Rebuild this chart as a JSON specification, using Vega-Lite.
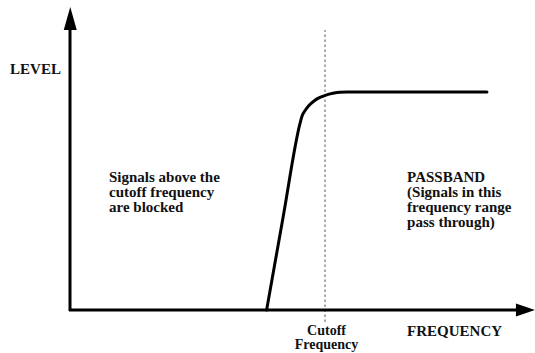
{
  "$schema": "https://vega.github.io/schema/vega-lite/v6.json",
  "width": 535,
  "height": 353,
  "padding": 0,
  "autosize": {"type": "fit", "contains": "padding"},
  "background": "white",
  "config": {"view": {"stroke": null}},
  "datasets": {
    "curve": [
      {"freq": 77.1, "level": 0},
      {"freq": 83.6, "level": 42.8},
      {"freq": 90.2, "level": 85.6},
      {"freq": 91.0, "level": 89.0},
      {"freq": 92.2, "level": 91.5},
      {"freq": 93.7, "level": 93.8},
      {"freq": 95.7, "level": 95.9},
      {"freq": 98.0, "level": 97.5},
      {"freq": 100.4, "level": 98.6},
      {"freq": 103.1, "level": 99.4},
      {"freq": 105.9, "level": 99.9},
      {"freq": 108.6, "level": 100},
      {"freq": 163.5, "level": 100}
    ],
    "axes": [
      {"f1": -0.4, "l1": 0, "f2": 174.9, "l2": 0},
      {"f1": 0, "l1": -0.4, "f2": 0, "l2": 128.4}
    ],
    "cutoff": [
      {"f1": 100, "l1": -5.5, "f2": 100, "l2": 128.4}
    ],
    "arrowUp": [{"freq": 0.1, "level": 133.7}],
    "arrowRight": [{"freq": 178.6, "level": 0}],
    "labels": [
      {"label": "LEVEL", "freq": -23.5, "level": 108.3},
      {"label": "Signals above the\ncutoff frequency\nare blocked", "freq": 15.3, "level": 58.7},
      {"label": "PASSBAND\n(Signals in this\nfrequency range\npass through)", "freq": 132.2, "level": 58.7},
      {"label": "FREQUENCY", "freq": 132.2, "level": -11.9}
    ],
    "centerLabels": [
      {"label": "Cutoff\nFrequency", "freq": 100.6, "level": -11.5}
    ]
  },
  "layer": [
    {
      "data": {"name": "cutoff"},
      "mark": {"type": "rule", "color": "#555555", "strokeWidth": 1, "strokeDash": [2.5, 2.5]},
      "encoding": {
        "x": {"field": "f1", "type": "quantitative", "scale": {"domain": [-27.45, 182.35], "nice": false, "zero": false}, "axis": null},
        "y": {"field": "l1", "type": "quantitative", "scale": {"domain": [-19.72, 142.2], "nice": false, "zero": false}, "axis": null},
        "x2": {"field": "f2"},
        "y2": {"field": "l2"}
      }
    },
    {
      "data": {"name": "axes"},
      "mark": {"type": "rule", "color": "black", "strokeWidth": 3, "strokeCap": "butt"},
      "encoding": {
        "x": {"field": "f1", "type": "quantitative"},
        "y": {"field": "l1", "type": "quantitative"},
        "x2": {"field": "f2"},
        "y2": {"field": "l2"}
      }
    },
    {
      "data": {"name": "curve"},
      "mark": {"type": "line", "color": "black", "strokeWidth": 3, "interpolate": "monotone", "strokeCap": "round", "strokeJoin": "round"},
      "encoding": {
        "x": {"field": "freq", "type": "quantitative"},
        "y": {"field": "level", "type": "quantitative"}
      }
    },
    {
      "data": {"name": "arrowUp"},
      "mark": {"type": "point", "shape": "M0,-1L0.565,1L-0.565,1Z", "size": 529, "filled": true, "color": "black", "opacity": 1, "strokeWidth": 0},
      "encoding": {
        "x": {"field": "freq", "type": "quantitative"},
        "y": {"field": "level", "type": "quantitative"}
      }
    },
    {
      "data": {"name": "arrowRight"},
      "mark": {"type": "point", "shape": "M1,0L-1,0.684L-1,-0.684Z", "size": 361, "filled": true, "color": "black", "opacity": 1, "strokeWidth": 0},
      "encoding": {
        "x": {"field": "freq", "type": "quantitative"},
        "y": {"field": "level", "type": "quantitative"}
      }
    },
    {
      "data": {"name": "labels"},
      "mark": {"type": "text", "align": "left", "baseline": "alphabetic", "font": "Liberation Serif", "fontWeight": "bold", "fontSize": 15, "lineHeight": 15, "lineBreak": "\n", "color": "#111111"},
      "encoding": {
        "x": {"field": "freq", "type": "quantitative"},
        "y": {"field": "level", "type": "quantitative"},
        "text": {"field": "label"}
      }
    },
    {
      "data": {"name": "centerLabels"},
      "mark": {"type": "text", "align": "center", "baseline": "alphabetic", "font": "Liberation Serif", "fontWeight": "bold", "fontSize": 14, "lineHeight": 14, "lineBreak": "\n", "color": "#111111"},
      "encoding": {
        "x": {"field": "freq", "type": "quantitative"},
        "y": {"field": "level", "type": "quantitative"},
        "text": {"field": "label"}
      }
    }
  ]
}
